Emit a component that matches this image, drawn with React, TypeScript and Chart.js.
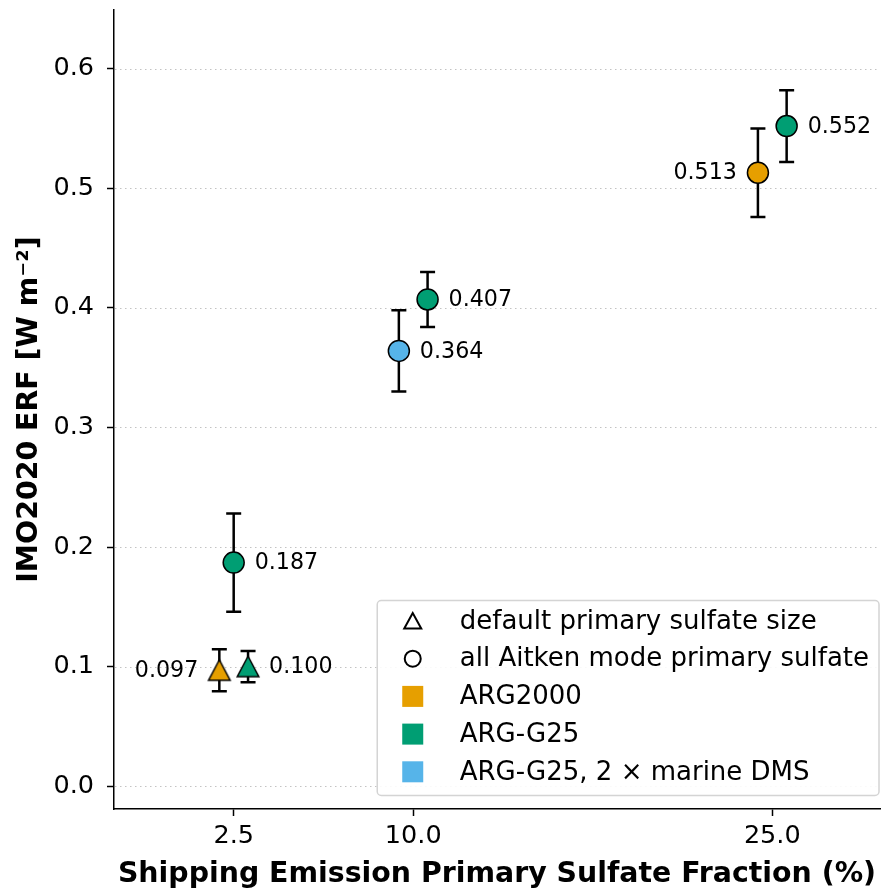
import React, { useEffect, useRef } from 'react';
import { Chart, registerables } from 'chart.js';

Chart.register(...registerables);

const FONT = '"DejaVu Sans", sans-serif';

// ---- data ----
const fractionTicks = [2.5, 10, 25];
const erfTicks = [0, 0.1, 0.2, 0.3, 0.4, 0.5, 0.6];
const fractions = [2.5, 2.5, 2.5, 10, 10, 25, 25];
const dodge = [-0.6, 0.6, 0, -0.6, 0.6, -0.6, 0.6];
const erfValues = [0.097, 0.1, 0.187, 0.364, 0.407, 0.513, 0.552];
const erfErrors = [0.0175, 0.013, 0.041, 0.034, 0.023, 0.037, 0.03];
const pointConfigs = ['ARG2000', 'ARG-G25', 'ARG-G25', 'ARG-G25, 2 × marine DMS', 'ARG-G25', 'ARG2000', 'ARG-G25'];
const pointSizeModes = ['default', 'default', 'aitken', 'aitken', 'aitken', 'aitken', 'aitken'];
const configNames = ['ARG2000', 'ARG-G25', 'ARG-G25, 2 × marine DMS'];
const sizeModeNames = ['default', 'aitken'];
const sizeModeLabels = ['default primary sulfate size', 'all Aitken mode primary sulfate'];

// ---- styles ----
const configColors = ['#E69F00', '#009E73', '#56B4E9'];
const leftLabelConfig = 'ARG2000';
const TICK_SIZE = 25.5;
const TITLE_SIZE = 28.4;
const LEGEND_SIZE = 26;
const VALUE_SIZE = 22.2;

function makeTriangle(fill: string) {
  const c = document.createElement('canvas');
  c.width = 28;
  c.height = 28;
  const ctx = c.getContext('2d')!;
  ctx.beginPath();
  ctx.moveTo(14, 3.5);
  ctx.lineTo(3.2, 24);
  ctx.lineTo(24.8, 24);
  ctx.closePath();
  ctx.fillStyle = fill;
  ctx.fill();
  ctx.lineWidth = 1.5;
  ctx.lineJoin = 'miter';
  ctx.strokeStyle = '#000';
  ctx.stroke();
  return c;
}

const gridPlugin = {
  id: 'dottedGrid',
  beforeDatasetsDraw(chart: any) {
    const { ctx, chartArea, scales } = chart;
    const y = scales.y;
    ctx.save();
    ctx.strokeStyle = 'rgba(170,170,170,0.7)';
    ctx.lineWidth = 1;
    ctx.setLineDash([1.5, 3.5]);
    y.ticks.forEach((t: any) => {
      const py = Math.round(y.getPixelForValue(t.value)) + 0.5;
      ctx.beginPath();
      ctx.moveTo(chartArea.left + 1, py);
      ctx.lineTo(chartArea.right, py);
      ctx.stroke();
    });
    ctx.restore();
  },
};

const errorBarPlugin = {
  id: 'errorBars',
  beforeDatasetsDraw(chart: any) {
    const { ctx, scales } = chart;
    const y = scales.y;
    ctx.save();
    ctx.strokeStyle = '#000';
    ctx.lineWidth = 2.5;
    chart.data.datasets.forEach((ds: any, di: number) => {
      const meta = chart.getDatasetMeta(di);
      meta.data.forEach((el: any, i: number) => {
        const d = ds.data[i];
        const px = el.x;
        const top = y.getPixelForValue(d.y + d.err);
        const bot = y.getPixelForValue(d.y - d.err);
        const cap = 7.5;
        ctx.beginPath();
        ctx.moveTo(px, top);
        ctx.lineTo(px, bot);
        ctx.moveTo(px - cap, top);
        ctx.lineTo(px + cap, top);
        ctx.moveTo(px - cap, bot);
        ctx.lineTo(px + cap, bot);
        ctx.stroke();
      });
    });
    ctx.restore();
  },
};

const valueLabelPlugin = {
  id: 'valueLabels',
  afterDatasetsDraw(chart: any) {
    const { ctx } = chart;
    ctx.save();
    ctx.font = `${VALUE_SIZE}px ${FONT}`;
    ctx.fillStyle = '#000';
    ctx.textBaseline = 'middle';
    chart.data.datasets.forEach((ds: any, di: number) => {
      const meta = chart.getDatasetMeta(di);
      meta.data.forEach((el: any, i: number) => {
        const d = ds.data[i];
        const txt = d.y.toFixed(3);
        if (ds.label === leftLabelConfig) {
          ctx.textAlign = 'right';
          ctx.fillText(txt, el.x - 21, el.y + 1);
        } else {
          ctx.textAlign = 'left';
          ctx.fillText(txt, el.x + 21, el.y + 1);
        }
      });
    });
    ctx.restore();
  },
};

const legendPlugin = {
  id: 'boxLegend',
  afterDraw(chart: any) {
    const { ctx, chartArea } = chart;
    const entries: { kind: string; color?: string; text: string }[] = [
      { kind: 'triangle', text: sizeModeLabels[0] },
      { kind: 'circle', text: sizeModeLabels[1] },
      ...configNames.map((n, i) => ({ kind: 'square', color: configColors[i], text: n })),
    ];
    ctx.save();
    ctx.font = `${LEGEND_SIZE}px ${FONT}`;
    const maxW = Math.max(...entries.map((e) => ctx.measureText(e.text).width));
    const right = chartArea.right;
    const left = right - (83 + maxW + 11);
    const bottom = chartArea.bottom - 14;
    const rowH = 37.7;
    const height = 195;
    const top = bottom - height;
    ctx.beginPath();
    ctx.roundRect(left + 0.5, top + 0.5, right - left - 1.5, height, 4);
    ctx.fillStyle = 'rgba(255,255,255,0.9)';
    ctx.fill();
    ctx.strokeStyle = '#d4d4d4';
    ctx.lineWidth = 1.5;
    ctx.stroke();
    entries.forEach((e, i) => {
      const cy = top + 21 + i * rowH;
      const mx = left + 36;
      ctx.strokeStyle = '#000';
      ctx.lineWidth = 2;
      if (e.kind === 'triangle') {
        ctx.beginPath();
        ctx.moveTo(mx, cy - 8);
        ctx.lineTo(mx - 8.5, cy + 7.5);
        ctx.lineTo(mx + 8.5, cy + 7.5);
        ctx.closePath();
        ctx.stroke();
      } else if (e.kind === 'circle') {
        ctx.beginPath();
        ctx.arc(mx, cy, 8, 0, Math.PI * 2);
        ctx.stroke();
      } else {
        ctx.fillStyle = e.color!;
        ctx.fillRect(mx - 10.5, cy - 10.5, 21, 21);
      }
      ctx.fillStyle = '#000';
      ctx.textAlign = 'left';
      ctx.textBaseline = 'middle';
      ctx.fillText(e.text, left + 83, cy + 1);
    });
    ctx.restore();
  },
};

function zeroPadding(s: any) {
  s.paddingTop = 0;
  s.paddingBottom = 0;
  s.paddingLeft = 0;
  s.paddingRight = 0;
}

export default function App() {
  const ref = useRef<HTMLCanvasElement>(null);
  useEffect(() => {
    document.body.style.margin = '0';
    const triangles = configColors.map((c) => makeTriangle(c));
    const datasets = configNames.map((name, ci) => {
      const idx = pointConfigs.map((c, i) => (c === name ? i : -1)).filter((i) => i >= 0);
      return {
        label: name,
        data: idx.map((i) => ({ x: fractions[i] + dodge[i], y: erfValues[i], err: erfErrors[i] })),
        pointStyle: idx.map((i) => (pointSizeModes[i] === sizeModeNames[0] ? triangles[ci] : 'circle')),
        backgroundColor: configColors[ci],
        borderColor: '#000',
        borderWidth: 1.5,
        pointRadius: 10.5,
        showLine: false,
      };
    });
    const chart = new Chart(ref.current!, {
      type: 'scatter',
      data: { datasets },
      options: {
        responsive: false,
        animation: false,
        events: [],
        layout: { autoPadding: false, padding: { top: 10, right: 1, left: 0, bottom: 0 } },
        plugins: { legend: { display: false }, tooltip: { enabled: false } },
        scales: {
          x: {
            type: 'linear',
            min: -2.5,
            max: 29.5,
            afterFit: (s: any) => {
              s.height = 86;
              zeroPadding(s);
            },
            afterBuildTicks: (s: any) => {
              s.ticks = fractionTicks.map((v) => ({ value: v }));
            },
            ticks: {
              color: '#000',
              font: { family: FONT, size: TICK_SIZE },
              padding: 5,
              callback: (v: any) => Number(v).toFixed(1),
            },
            grid: { drawOnChartArea: false, drawTicks: true, tickLength: 7, tickWidth: 1.5, tickColor: '#000' },
            border: { color: '#000', width: 1.5 },
            title: {
              display: true,
              text: 'Shipping Emission Primary Sulfate Fraction (%)',
              color: '#000',
              font: { family: FONT, size: TITLE_SIZE, weight: 'bold' },
              padding: { top: 0, bottom: 3 },
            },
          },
          y: {
            type: 'linear',
            min: -0.019,
            max: 0.649,
            afterFit: (s: any) => {
              s.width = 114;
              zeroPadding(s);
            },
            afterBuildTicks: (s: any) => {
              s.ticks = erfTicks.map((v) => ({ value: v }));
            },
            ticks: {
              color: '#000',
              font: { family: FONT, size: TICK_SIZE },
              padding: 13,
              callback: (v: any) => Number(v).toFixed(1),
            },
            grid: { drawOnChartArea: false, drawTicks: true, tickLength: 7, tickWidth: 1.5, tickColor: '#000' },
            border: { color: '#000', width: 1.5 },
            title: {
              display: true,
              text: 'IMO2020 ERF [W m⁻²]',
              color: '#000',
              font: { family: FONT, size: TITLE_SIZE, weight: 'bold' },
              padding: { top: 13, bottom: 0 },
            },
          },
        },
      } as any,
      plugins: [gridPlugin, errorBarPlugin, valueLabelPlugin, legendPlugin],
    });
    return () => chart.destroy();
  }, []);
  return (
    <div style={{ width: 881, height: 895 }}>
      <canvas ref={ref} width={881} height={895} />
    </div>
  );
}
